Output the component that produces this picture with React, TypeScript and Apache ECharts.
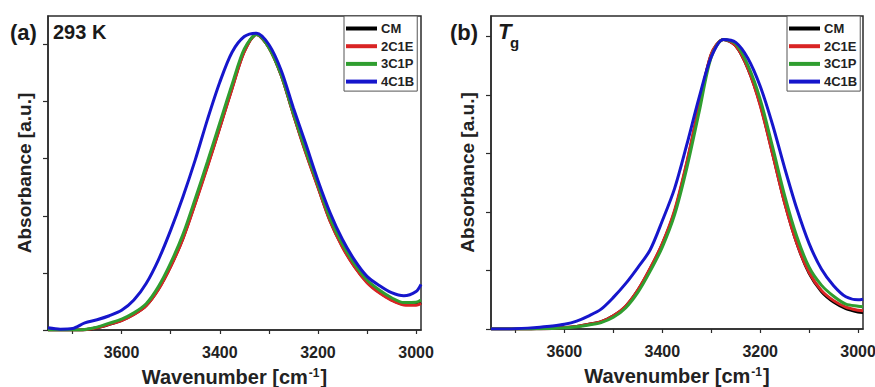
import React, { useEffect, useRef } from "react";
import * as echarts from "echarts";

// Wavenumber grid (cm^-1), shared by every spectrum
const WAVENUMBERS = [
  3750, 3725, 3700, 3675, 3650, 3625, 3600, 3575, 3550, 3525, 3500, 3475, 3450, 3425, 3400, 3375,
  3350, 3325, 3300, 3275, 3250, 3225, 3200, 3175, 3150, 3125, 3100, 3075, 3050, 3025, 3000, 2990,
];

const SERIES_NAMES = ["CM", "2C1E", "3C1P", "4C1B"];

// (a) 293 K
const RT_CM = [
  0, 0, 0, 0.001, 0.008, 0.02, 0.034, 0.055, 0.086, 0.144, 0.224, 0.322, 0.446, 0.576, 0.71, 0.848,
  0.977, 1.035, 0.99, 0.893, 0.756, 0.624, 0.502, 0.382, 0.292, 0.222, 0.168, 0.132, 0.106, 0.09, 0.089, 0.095,
];
const RT_2C1E = [
  0, 0, 0, 0.001, 0.008, 0.02, 0.033, 0.054, 0.085, 0.142, 0.222, 0.32, 0.443, 0.573, 0.708, 0.845,
  0.975, 1.035, 0.99, 0.893, 0.755, 0.622, 0.5, 0.38, 0.29, 0.22, 0.166, 0.13, 0.104, 0.088, 0.087, 0.093,
];
const RT_3C1P = [
  0, 0, 0, 0.002, 0.01, 0.024, 0.038, 0.06, 0.092, 0.152, 0.235, 0.335, 0.46, 0.59, 0.725, 0.86,
  0.985, 1.035, 0.99, 0.895, 0.76, 0.63, 0.51, 0.39, 0.3, 0.23, 0.175, 0.14, 0.113, 0.096, 0.097, 0.105,
];
const RT_4C1B = [
  0.008, 0.003, 0.005, 0.025, 0.036, 0.05, 0.069, 0.105, 0.163, 0.246, 0.35, 0.467, 0.596, 0.738, 0.868, 0.973,
  1.028, 1.04, 1.0, 0.91, 0.778, 0.653, 0.524, 0.41, 0.317, 0.244, 0.188, 0.156, 0.131, 0.12, 0.135, 0.16,
];

// (b) Tg
const TG_CM = [
  0, 0, 0, 0, 0.001, 0.002, 0.005, 0.009, 0.016, 0.025, 0.045, 0.077, 0.132, 0.205, 0.29, 0.4,
  0.565, 0.757, 0.938, 0.99, 0.968, 0.89, 0.768, 0.602, 0.432, 0.292, 0.19, 0.128, 0.092, 0.07, 0.058, 0.056,
];
const TG_2C1E = [
  0, 0, 0, 0, 0.001, 0.002, 0.005, 0.009, 0.016, 0.025, 0.045, 0.078, 0.133, 0.207, 0.292, 0.405,
  0.57, 0.76, 0.94, 0.99, 0.968, 0.89, 0.765, 0.6, 0.43, 0.292, 0.193, 0.132, 0.097, 0.075, 0.064, 0.062,
];
const TG_3C1P = [
  0, 0, 0, 0, 0.001, 0.002, 0.004, 0.008, 0.014, 0.022, 0.04, 0.072, 0.125, 0.197, 0.28, 0.39,
  0.55, 0.74, 0.93, 0.99, 0.975, 0.901, 0.785, 0.624, 0.456, 0.315, 0.211, 0.15, 0.112, 0.085, 0.078, 0.076,
];
const TG_4C1B = [
  0, 0, 0.001, 0.003, 0.006, 0.01, 0.016, 0.027, 0.045, 0.068, 0.108, 0.155, 0.21, 0.27, 0.37, 0.48,
  0.63, 0.79, 0.93, 0.99, 0.98, 0.925, 0.83, 0.7, 0.55, 0.41, 0.292, 0.205, 0.148, 0.11, 0.1, 0.102,
];

const X_LABELS = [3000, 3200, 3400, 3600];
const X_TICKS = [3000, 3100, 3200, 3300, 3400, 3500, 3600, 3700];
const Y_TICKS = [0, 0.2, 0.4, 0.6, 0.8, 1.0];

const PANELS = [
  { label: "(a)", data: [RT_CM, RT_2C1E, RT_3C1P, RT_4C1B] },
  { label: "(b)", data: [TG_CM, TG_2C1E, TG_3C1P, TG_4C1B] },
];

const COLORS = ["#000000", "#d92424", "#2f9e2f", "#1616cc"];
const FONT = "'Liberation Sans', Arial, sans-serif";
const AXIS_COLOR = "#2b2b2b";

const GRIDS = [
  { left: 48, top: 16, width: 373, height: 314, yMax: 1.1 },
  { left: 491, top: 16, width: 372, height: 313, yMax: 1.07 },
];

function buildOption() {
  const xAxis = GRIDS.map((_, i) => ({
    gridIndex: i,
    type: "value",
    inverse: true,
    min: 2990,
    max: 3750,
    axisLine: { show: true, onZero: false, lineStyle: { color: AXIS_COLOR, width: 1.5 } },
    axisTick: { show: true, inside: false, length: 4, customValues: X_TICKS, lineStyle: { color: AXIS_COLOR, width: 1.2 } },
    axisLabel: {
      customValues: X_LABELS,
      formatter: (v: number) => String(v),
      fontSize: 16,
      fontWeight: "bold",
      fontFamily: FONT,
      color: "#222",
      margin: 14,
      hideOverlap: false,
    },
    splitLine: { show: false },
    name: "Wavenumber [cm{sup|-1}]",
    nameLocation: "middle",
    nameGap: 37,
    nameTextStyle: {
      fontSize: 20,
      fontWeight: "bold",
      fontFamily: FONT,
      color: "#222",
      rich: {
        sup: { fontSize: 12, fontWeight: "bold", fontFamily: FONT, color: "#222", verticalAlign: "top", padding: [0, 1, 0, 1] },
      },
    },
  }));

  const yAxis = GRIDS.map((g, i) => ({
    gridIndex: i,
    type: "value",
    min: 0,
    max: g.yMax,
    axisLine: { show: true, onZero: false, lineStyle: { color: AXIS_COLOR, width: 1.5 } },
    axisTick: { show: true, inside: false, length: 5, customValues: Y_TICKS, lineStyle: { color: AXIS_COLOR, width: 1.2 } },
    axisLabel: { show: false },
    splitLine: { show: false },
    name: "Absorbance [a.u.]",
    nameLocation: "middle",
    nameRotate: 90,
    nameGap: 14,
    nameTextStyle: { fontSize: 19, fontWeight: "bold", fontFamily: FONT, color: "#222" },
  }));

  const series: any[] = [];
  PANELS.forEach((panel, p) => {
    panel.data.forEach((values, s) => {
      series.push({
        type: "line",
        name: SERIES_NAMES[s],
        xAxisIndex: p,
        yAxisIndex: p,
        data: WAVENUMBERS.map((w, k) => [w, values[k]]),
        showSymbol: false,
        smooth: 0.3,
        lineStyle: { width: 3, color: COLORS[s] },
        itemStyle: { color: COLORS[s] },
        z: 2 + s,
      });
    });
  });

  const legendBase = {
    orient: "vertical",
    top: 16,
    data: SERIES_NAMES,
    icon: "rect",
    itemWidth: 31,
    itemHeight: 4,
    itemGap: 4.7,
    selectedMode: false,
    backgroundColor: "#ffffff",
    borderColor: "#555",
    borderWidth: 1,
    borderRadius: 0,
    padding: [6, 3, 3, 2],
    textStyle: { fontSize: 13, fontWeight: "bold", fontFamily: FONT, color: "#222", padding: [0, 0, 0, -1] },
    z: 10,
  };

  const textStyle = (fontSize: number, extra: any = {}) => ({
    fontSize,
    fontWeight: "bold",
    fontFamily: FONT,
    fill: "#1a1a1a",
    textAlign: "left",
    textVerticalAlign: "top",
    ...extra,
  });

  return {
    animation: false,
    backgroundColor: "#ffffff",
    grid: GRIDS.map((g) => ({
      left: g.left,
      top: g.top,
      width: g.width,
      height: g.height,
      show: true,
      borderColor: AXIS_COLOR,
      borderWidth: 1.5,
      backgroundColor: "transparent",
      containLabel: false,
      outerBoundsMode: "none",
    })),
    xAxis,
    yAxis,
    legend: [
      { ...legendBase, left: 344 },
      { ...legendBase, left: 787 },
    ],
    graphic: [
      { type: "text", left: 10, top: 21, style: { text: PANELS[0].label, ...textStyle(22) } },
      { type: "text", left: 53, top: 22, style: { text: "293 K", ...textStyle(20) } },
      { type: "text", left: 450, top: 21, style: { text: PANELS[1].label, ...textStyle(22) } },
      { type: "text", left: 498, top: 20, style: { text: "T", ...textStyle(22, { fontStyle: "italic" }) } },
      { type: "text", left: 510, top: 35, style: { text: "g", ...textStyle(15) } },
    ],
    series,
  };
}

export default function App() {
  const ref = useRef<HTMLDivElement>(null);
  useEffect(() => {
    if (!ref.current) return;
    const chart = echarts.init(ref.current, null, { renderer: "svg" });
    chart.setOption(buildOption() as any);
    return () => chart.dispose();
  }, []);
  return (
    <div
      ref={ref}
      style={{ position: "absolute", left: 0, top: 0, width: 875, height: 387, background: "#ffffff" }}
    />
  );
}
